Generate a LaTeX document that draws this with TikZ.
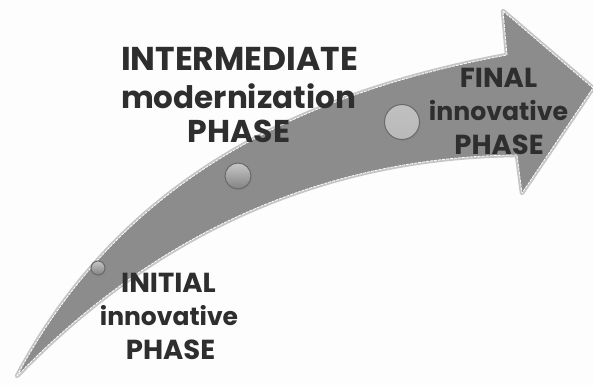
\documentclass[tikz,border=0pt]{standalone}
\usepackage{fontspec}
\setmainfont{Poppins}[BoldFont={* Bold}]
\usetikzlibrary{shadows}
\definecolor{bg}{HTML}{FDFDFD}
\definecolor{arrowfill}{HTML}{8C8C8C}
\definecolor{rimgray}{HTML}{C8C8C8}
\definecolor{txt}{HTML}{2E2E2E}
\definecolor{dotfill}{HTML}{B9B9B9}
\definecolor{dotedge}{HTML}{6A6A6A}
\tikzset{
  phase/.style={font=\bfseries, text=txt, inner sep=0pt, anchor=center},
  dot/.style={circle, draw=dotedge, line width=1pt, inner sep=0pt, top color=dotfill!80, bottom color=dotfill!70!black,
     drop shadow={shadow xshift=1pt, shadow yshift=-1.5pt, opacity=0.35}},
}
\newcommand{\fsz}[1]{\fontsize{#1}{#1}\selectfont}
\begin{document}
\begin{tikzpicture}[x=1pt,y=-1pt]
\fill[bg] (0,0) rectangle (593,385);
\useasboundingbox (0,0) rectangle (593,385);
\def\arrowpath{(17,376) .. controls (109,204) and (264,100) .. (507,55) -- (503,11) -- (593,88) -- (522,193) -- (517,155) .. controls (317,157) and (150,238) .. (17,376) -- cycle}
\draw[black!45, line width=4.5pt, line join=round, opacity=0.5] \arrowpath;
\draw[rimgray, line width=3pt, line join=round] \arrowpath;
\fill[arrowfill] \arrowpath;
\draw[white, line width=0.8pt, line join=round, dash pattern=on 3pt off 1pt] \arrowpath;
\node[dot, minimum size=14pt] (d1) at (98,268) {};
\node[dot, minimum size=26pt] (d2) at (238,176) {};
\node[dot, minimum size=35pt, top color=dotfill!90!white, bottom color=dotfill] (d3) at (402,122) {};
% intermediate label
\node[phase] (t2a) at (239.5,59) {\fsz{33}INTERMEDIATE};
\node[phase] (t2b) at (238.5,96) {\fsz{31}modernization};
\node[phase] (t2c) at (239,131) {\fsz{31.5}PHASE};
% final label
\node[phase] (t3a) at (498.5,78) {\fsz{27.5}FINAL};
\node[phase] (t3b) at (498.5,111) {\fsz{25.2}innovative};
\node[phase] (t3c) at (499,145) {\fsz{27.5}PHASE};
% initial label
\node[phase] (t1a) at (168.5,283) {\fsz{27.5}INITIAL};
\node[phase] (t1b) at (169,316) {\fsz{25}innovative};
\node[phase] (t1c) at (170.5,350) {\fsz{27.5}PHASE};
\end{tikzpicture}
\end{document}
